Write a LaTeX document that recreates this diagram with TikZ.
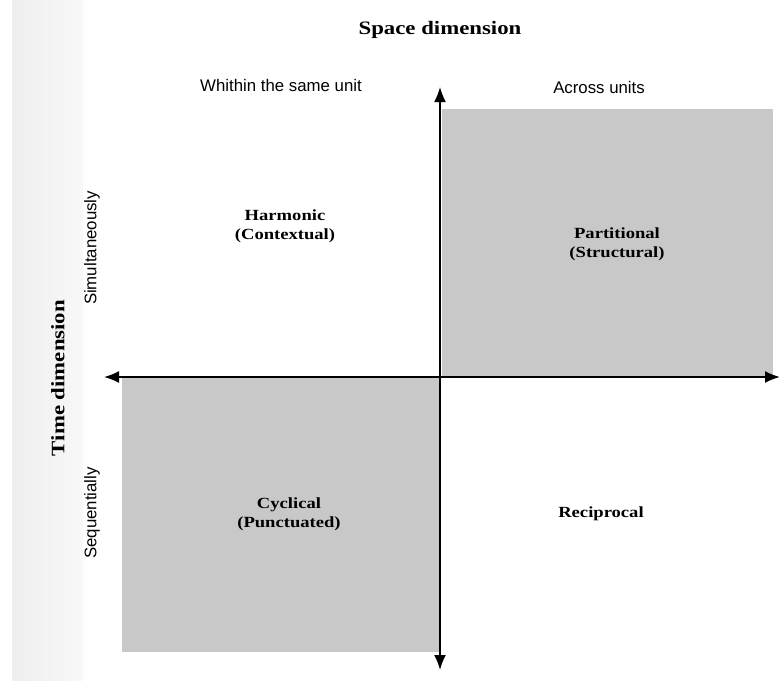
\documentclass[tikz,border=0pt]{standalone}
\usepackage{fontspec}
\setmainfont{Liberation Serif}
\newfontfamily\labelsans{Liberation Sans}
\newfontfamily\headserif[FakeStretch=1.2]{Liberation Serif}
\usetikzlibrary{arrows.meta}
\definecolor{quadgray}{RGB}{200,200,200}
\definecolor{stripdark}{RGB}{238,238,238}
\definecolor{striplight}{RGB}{248,248,248}
\begin{document}
\begin{tikzpicture}[x=1pt,y=-1pt,
  axis/.style={line width=1.7pt,-{Latex[length=15pt,width=12pt]}},
  quad/.style={fill=quadgray,draw=none},
  heading/.style={font=\headserif\bfseries\fontsize{19}{23}\selectfont,inner sep=0pt},
  sidelabel/.style={font=\labelsans\fontsize{16.8}{20}\selectfont,inner sep=0pt},
  quadlabel/.style={font=\headserif\bfseries\fontsize{15.5}{19}\selectfont,align=center,inner sep=0pt}]
  \useasboundingbox (0,0) rectangle (779,680);
  \fill[white] (0,0) rectangle (779,680);
  % soft band behind the time labels
  \shade[left color=stripdark, right color=striplight] (12,0) rectangle (83,680);
  % shaded quadrants
  \fill[quad] (442,109) rectangle (773,377);
  \fill[quad] (122,377) rectangle (440,652);
  % axis end points
  \coordinate (origin) at (440,377);
  \coordinate (xleft) at (104,377);
  \coordinate (xright) at (780,377);
  \coordinate (ytop) at (440,87);
  \coordinate (ybottom) at (440,670);
  \draw[axis] (origin) -- (xleft);
  \draw[axis] (origin) -- (xright);
  \draw[axis] (origin) -- (ytop);
  \draw[axis] (origin) -- (ybottom);
  % headings
  \node[heading] (space) at (440,30) {Space dimension};
  \node[heading,rotate=90] (time) at (58,378) {Time dimension};
  % column and row labels
  \node[sidelabel] (within) at (281,85) {Whithin the same unit};
  \node[sidelabel] (across) at (599,87) {Across units};
  \node[sidelabel,rotate=90] (simul) at (92,248) {Simultaneously};
  \node[sidelabel,rotate=90] (seq) at (92,513) {Sequentially};
  % quadrant labels
  \node[quadlabel] (harmonic) at (285,226) {Harmonic\\(Contextual)};
  \node[quadlabel] (partitional) at (617,244) {Partitional\\(Structural)};
  \node[quadlabel] (cyclical) at (289,514) {Cyclical\\(Punctuated)};
  \node[quadlabel] (reciprocal) at (601,514) {Reciprocal};
\end{tikzpicture}
\end{document}
